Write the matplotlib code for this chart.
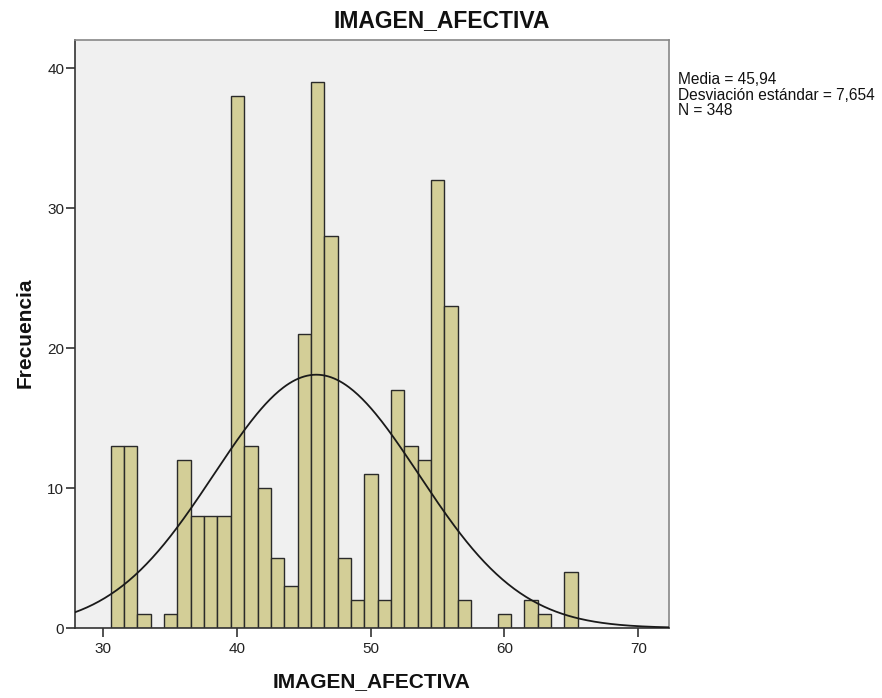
import numpy as np
import matplotlib
matplotlib.use("Agg")
import matplotlib.pyplot as plt

plt.rcParams['font.family'] = ['Liberation Sans', 'DejaVu Sans']

# Data
values = list(range(31, 66))
counts = [13, 13, 1, 0, 1, 12, 8, 8, 8, 38, 13, 10, 5, 3, 21, 39, 28, 5, 2, 11,
          2, 17, 13, 12, 32, 23, 2, 0, 0, 1, 0, 2, 1, 0, 4]
mean = 45.94
std = 7.654
n = 348
stats_text = "Media = 45,94\nDesviación estándar = 7,654\nN = 348"
title = "IMAGEN_AFECTIVA"
xlabel = "IMAGEN_AFECTIVA"
ylabel = "Frecuencia"
xticks = [30, 40, 50, 60, 70]
yticks = [0, 10, 20, 30, 40]

bin_start = 30.57
bin_width = 0.9975

fig = plt.figure(figsize=(8.82, 6.98), dpi=100)
ax = fig.add_axes([75/882, 1 - 628/698, (669-75)/882, (628-40)/698])
ax.set_facecolor('#f0f0f0')

lefts = [bin_start + i * bin_width for i in range(len(values))]
ax.bar(lefts, counts, width=bin_width, align='edge', color='#d3ce97',
       edgecolor='#2a2a2a', linewidth=1.0, zorder=2)

xs = np.linspace(27.9, 72.3, 400)
ys = n * bin_width * np.exp(-0.5 * ((xs - mean) / std) ** 2) / (std * np.sqrt(2 * np.pi))
ax.plot(xs, ys, color='#1a1a1a', linewidth=1.3, zorder=3)

ax.set_xlim(27.9, 72.3)
ax.set_ylim(0, 42)
ax.set_xticks(xticks)
ax.set_yticks(yticks)
ax.tick_params(axis='both', labelsize=11, colors='#333333', length=6.8, width=1.2, direction='out')
ax.tick_params(axis='x', pad=3.6)
ax.tick_params(axis='y', pad=1)
for lab in ax.get_xticklabels() + ax.get_yticklabels():
    lab.set_color('#222222')

for s in ['left', 'bottom']:
    ax.spines[s].set_color('#333333')
    ax.spines[s].set_linewidth(1.2)
for s in ['top', 'right']:
    ax.spines[s].set_color('#888888')
    ax.spines[s].set_linewidth(1.2)

fig.text(442/882, 1 - 21/698, title, ha='center', va='center', fontsize=16.5, fontweight='bold', color='#111111')
fig.text(372/882, 1 - 682/698, xlabel, ha='center', va='center', fontsize=15, fontweight='bold', color='#111111')
fig.text(25/882, 1 - 333/698, ylabel, ha='center', va='center', rotation=90, fontsize=15, fontweight='bold', color='#111111')
fig.text(678/882, 1 - 72/698, stats_text, ha='left', va='top', fontsize=11.2, color='#111111', linespacing=1.05)

fig.savefig('out.png', dpi=100)
